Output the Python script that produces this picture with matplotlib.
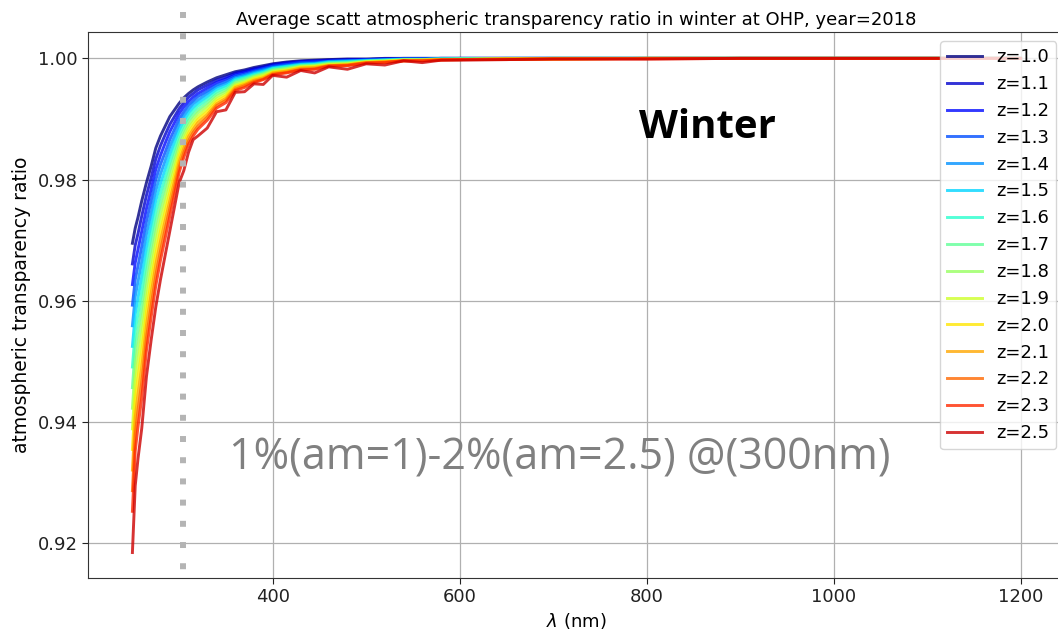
import numpy as np
import matplotlib
matplotlib.use("Agg")
import matplotlib.pyplot as plt
from matplotlib.lines import Line2D

# ---------------- data ----------------
wavelength = [250, 253, 256, 260, 265, 270, 275, 280, 285, 290, 295, 300, 305, 310,
              315, 320, 330, 340, 350, 360, 370, 380, 390, 400, 415, 430, 445, 460,
              480, 500, 520, 540, 560, 580, 600, 650, 700, 800, 900, 1000, 1100, 1200]

labels = ["z=1.0", "z=1.1", "z=1.2", "z=1.3", "z=1.4", "z=1.5", "z=1.6", "z=1.7",
          "z=1.8", "z=1.9", "z=2.0", "z=2.1", "z=2.2", "z=2.3", "z=2.5"]

ratio_z10 = [.9695, .9720, .9738, .9765, .9795, .9822, .9852, .9872, .9888, .9904, .9915, .9926, .9935, .9942,
             .9948, .9953, .9961, .9968, .9973, .9978, .9981, .9985, .9988, .9991, .9994, .9996, .9997, .9998,
             .9999, .9999, 1.0, 1.0, 1.0, 1.0, 1.0, 1.0, 1.0, 1.0, 1.0, 1.0, 1.0, 1.0]
ratio_z11 = [.9661, .9692, .9711, .9740, .9774, .9803, .9834, .9856, .9874, .9891, .9904, .9917, .9927, .9936,
             .9942, .9948, .9956, .9964, .9969, .9976, .9979, .9983, .9986, .9990, .9993, .9995, .9996, .9997,
             .9998, .9998, .9999, 1.0, 1.0, 1.0, 1.0, 1.0, 1.0, 1.0, 1.0, 1.0, 1.0, 1.0]
ratio_z12 = [.9627, .9663, .9685, .9715, .9752, .9784, .9817, .9840, .9860, .9879, .9894, .9909, .9920, .9929,
             .9936, .9942, .9951, .9960, .9966, .9973, .9977, .9981, .9984, .9988, .9991, .9994, .9995, .9996,
             .9997, .9998, .9999, .9999, .9999, 1.0, 1.0, 1.0, 1.0, 1.0, 1.0, 1.0, 1.0, 1.0]
ratio_z13 = [.9593, .9635, .9658, .9690, .9731, .9765, .9800, .9825, .9845, .9866, .9883, .9900, .9912, .9923,
             .9930, .9937, .9946, .9956, .9962, .9971, .9974, .9979, .9983, .9987, .9990, .9993, .9994, .9995,
             .9996, .9997, .9998, .9999, .9999, 1.0, 1.0, 1.0, 1.0, 1.0, 1.0, 1.0, 1.0, 1.0]
ratio_z14 = [.9559, .9607, .9632, .9665, .9710, .9745, .9782, .9809, .9831, .9854, .9872, .9891, .9905, .9916,
             .9925, .9931, .9942, .9953, .9959, .9968, .9972, .9977, .9981, .9985, .9988, .9991, .9992, .9995,
             .9996, .9997, .9998, .9999, .9999, .9999, 1.0, 1.0, 1.0, 1.0, 1.0, 1.0, 1.0, 1.0]
ratio_z15 = [.9525, .9578, .9605, .9640, .9688, .9726, .9765, .9793, .9817, .9841, .9862, .9882, .9897, .9910,
             .9919, .9926, .9937, .9949, .9955, .9966, .9970, .9975, .9979, .9984, .9987, .9990, .9991, .9994,
             .9995, .9996, .9997, .9998, .9998, .9999, .9999, 1.0, 1.0, 1.0, 1.0, 1.0, 1.0, 1.0]
ratio_z16 = [.9491, .9550, .9579, .9615, .9667, .9707, .9747, .9777, .9803, .9828, .9851, .9874, .9890, .9903,
             .9913, .9921, .9932, .9945, .9952, .9964, .9968, .9973, .9977, .9983, .9986, .9989, .9990, .9993,
             .9994, .9996, .9997, .9998, .9998, .9999, .9999, 1.0, 1.0, 1.0, 1.0, 1.0, 1.0, 1.0]
ratio_z17 = [.9457, .9522, .9552, .9590, .9646, .9688, .9730, .9761, .9789, .9816, .9840, .9865, .9882, .9897,
             .9907, .9915, .9927, .9941, .9948, .9961, .9966, .9971, .9975, .9981, .9984, .9988, .9989, .9992,
             .9993, .9995, .9996, .9998, .9998, .9999, .9999, .9999, 1.0, 1.0, 1.0, 1.0, 1.0, 1.0]
ratio_z18 = [.9423, .9493, .9526, .9565, .9624, .9669, .9712, .9746, .9774, .9803, .9830, .9856, .9875, .9890,
             .9901, .9910, .9922, .9937, .9945, .9959, .9963, .9970, .9974, .9980, .9983, .9987, .9988, .9991,
             .9992, .9995, .9996, .9997, .9997, .9998, .9999, .9999, 1.0, 1.0, 1.0, 1.0, 1.0, 1.0]
ratio_z19 = [.9389, .9465, .9499, .9540, .9603, .9650, .9695, .9730, .9760, .9791, .9819, .9847, .9867, .9884,
             .9895, .9904, .9917, .9933, .9941, .9956, .9961, .9968, .9972, .9978, .9981, .9986, .9987, .9990,
             .9991, .9994, .9995, .9997, .9997, .9998, .9998, .9999, 1.0, 1.0, 1.0, 1.0, 1.0, 1.0]
ratio_z20 = [.9355, .9437, .9473, .9515, .9582, .9631, .9677, .9714, .9746, .9778, .9808, .9839, .9860, .9877,
             .9889, .9899, .9912, .9929, .9938, .9954, .9959, .9966, .9970, .9977, .9980, .9985, .9986, .9989,
             .9990, .9994, .9995, .9997, .9997, .9998, .9998, .9999, .9999, 1.0, 1.0, 1.0, 1.0, 1.0]
ratio_z21 = [.9321, .9408, .9446, .9490, .9560, .9612, .9660, .9698, .9732, .9765, .9798, .9830, .9852, .9871,
             .9883, .9894, .9907, .9925, .9934, .9952, .9957, .9964, .9968, .9976, .9979, .9984, .9985, .9988,
             .9989, .9993, .9994, .9996, .9997, .9998, .9998, .9999, .9999, 1.0, 1.0, 1.0, 1.0, 1.0]
ratio_z22 = [.9287, .9380, .9420, .9465, .9539, .9592, .9642, .9682, .9718, .9753, .9787, .9821, .9845, .9864,
             .9878, .9888, .9903, .9922, .9931, .9949, .9955, .9962, .9966, .9974, .9977, .9982, .9983, .9988,
             .9989, .9993, .9994, .9996, .9996, .9998, .9998, .9999, .9999, 1.0, 1.0, 1.0, 1.0, 1.0]
ratio_z23 = [.9253, .9352, .9393, .9440, .9518, .9573, .9625, .9667, .9703, .9740, .9776, .9812, .9837, .9858,
             .9872, .9883, .9898, .9918, .9927, .9947, .9952, .9960, .9965, .9973, .9976, .9981, .9982, .9987,
             .9988, .9992, .9993, .9996, .9996, .9997, .9998, .9998, .9999, .9999, 1.0, 1.0, 1.0, 1.0]
ratio_z25 = [.9185, .9295, .9340, .9390, .9475, .9535, .9590, .9635, .9675, .9715, .9755, .9795, .9815, .9845,
             .9866, .9872, .9885, .9912, .9915, .9944, .9945, .9958, .9957, .9972, .9969, .9980, .9976, .9986,
             .9982, .9991, .9989, .9996, .9993, .9997, .9997, .9998, .9999, .9999, 1.0, 1.0, 1.0, 1.0]

series = [ratio_z10, ratio_z11, ratio_z12, ratio_z13, ratio_z14, ratio_z15, ratio_z16, ratio_z17,
          ratio_z18, ratio_z19, ratio_z20, ratio_z21, ratio_z22, ratio_z23, ratio_z25]

title = "Average scatt atmospheric transparency ratio in winter at OHP, year=2018"
annot_big = "1%(am=1)-2%(am=2.5) @(300nm)"

# ---------------- figure ----------------
W, H = 1058, 630
fig = plt.figure(figsize=(W / 100, H / 100), dpi=100)
ax = fig.add_axes([88 / W, 1 - 578 / H, (1065 - 88) / W, (578 - 32.3) / H])

colors = plt.cm.jet(np.arange(len(series)) / 15.0)
for vals, lab, c in zip(series, labels, colors):
    ax.plot(wavelength, vals, color=c, alpha=0.8, lw=2.1, label=lab)

ax.set_xlim(202.5, 1247.5)
ax.set_ylim(0.9143, 1.0043)
ax.set_xticks([400, 600, 800, 1000, 1200])
ax.set_yticks([0.92, 0.94, 0.96, 0.98, 1.00])
ax.yaxis.set_major_formatter(matplotlib.ticker.FormatStrFormatter("%.2f"))
ax.grid(True, color="#b0b0b0", lw=0.9)
ax.tick_params(labelsize=13, length=4, colors="#222222")
for s in ax.spines.values():
    s.set_color("#333333")
ax.set_xlabel(r"$\lambda$ (nm)", fontsize=13, labelpad=3)
ax.set_ylabel("atmospheric transparency ratio", fontsize=13.5, labelpad=5)
ax.set_title(title, fontsize=13, pad=5)

leg = ax.legend(loc="upper left", bbox_to_anchor=(940 / W, 1 - 41 / H),
                bbox_transform=fig.transFigure, borderaxespad=0,
                fontsize=13, labelspacing=0.49, handlelength=1.9)

# vertical dotted marker line (slide annotation)
fig.add_artist(Line2D([183 / W, 183 / W], [1 - 12 / H, 1 - 578 / H],
                      transform=fig.transFigure, color="#b4b4b4", lw=4.3,
                      linestyle=(0, (1, 2.55)), solid_capstyle="butt",
                      dash_capstyle="butt", zorder=5))

fig.text(707 / W, 1 - 128 / H, "Winter", fontsize=29, fontweight="bold",
         family="Open Sans", ha="center", va="center", color="black")
fig.text(560 / W, 1 - 458 / H, annot_big, fontsize=31, family="Open Sans",
         ha="center", va="center", color="#808080")

fig.savefig("out.png", dpi=100)
